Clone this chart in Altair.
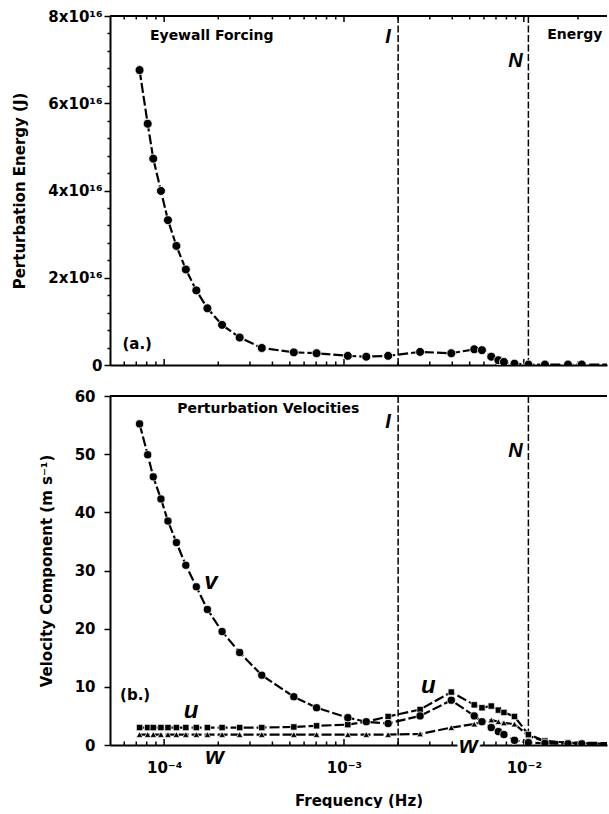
import json
import altair as alt
import pandas as pd

# Forcing frequencies (Hz) shared by every series
FREQ_HZ = [7.3e-5, 8.1e-5, 8.7e-5, 9.6e-5, 1.05e-4, 1.17e-4, 1.32e-4, 1.51e-4,
           1.74e-4, 2.1e-4, 2.63e-4, 3.49e-4, 5.26e-4, 7.04e-4, 1.05e-3, 1.33e-3,
           1.76e-3, 2.65e-3, 3.95e-3, 5.3e-3, 5.85e-3, 6.59e-3, 7.22e-3, 7.75e-3,
           8.87e-3, 1.06e-2, 1.31e-2, 1.76e-2, 2.1e-2, 3.2e-2]

# Perturbation energy, in units of 10^16 J
ENERGY_1E16_J = [6.76, 5.53, 4.73, 3.99, 3.32, 2.73, 2.19, 1.71, 1.30, 0.92,
                 0.63, 0.39, 0.29, 0.27, 0.21, 0.19, 0.21, 0.30, 0.27, 0.36,
                 0.34, 0.19, 0.11, 0.07, 0.03, 0.01, 0.01, 0.01, 0.01, 0.01]

# Perturbation velocity components (m/s)
V_MS = [55.2, 49.9, 46.1, 42.3, 38.5, 34.8, 30.9, 27.2, 23.3, 19.5,
        15.9, 12.0, 8.3, 6.4, 4.7, 4.0, 3.7, 5.0, 7.7, 5.0,
        4.0, 3.0, 2.3, 1.8, 0.8, 0.4, 0.3, 0.2, 0.2, 0.1]
U_MS = [3.0, 3.0, 3.0, 3.0, 3.0, 3.0, 3.0, 3.0, 3.0, 3.0,
        3.0, 3.0, 3.1, 3.3, 3.5, 4.0, 4.9, 6.1, 9.1, 6.9,
        6.4, 6.7, 6.0, 5.6, 4.9, 1.8, 0.7, 0.4, 0.3, 0.2]
W_MS = [1.8, 1.8, 1.8, 1.8, 1.8, 1.8, 1.8, 1.8, 1.8, 1.8,
        1.8, 1.8, 1.8, 1.8, 1.8, 1.8, 1.8, 1.9, 3.0, 3.6,
        4.0, 4.3, 4.0, 3.8, 3.6, 1.6, 0.6, 0.4, 0.4, 0.3]

# Inertial (I) and buoyancy (N) frequencies
I_FREQ = 2.0e-3
N_FREQ = 1.06e-2

X_DOMAIN = [5e-5, 2.9e-2]
X_MAJOR = [1e-4, 1e-3, 1e-2]
X_TICK_LABELS = ["10⁻⁴", "10⁻³", "10⁻²"]
E_MAJOR = [0, 2, 4, 6, 8]
E_TICK_LABELS = ["0", "2x10¹⁶", "4x10¹⁶", "6x10¹⁶", "8x10¹⁶"]
V_TICKS = [0, 10, 20, 30, 40, 50, 60]

W, H = 497, 349
FONT = "DejaVu Sans"
ITAL = "Liberation Sans"
DASH = [10, 3]

# log-axis tick positions inside the domain
all_ticks = [m * 10.0 ** k for k in (-5, -4, -3, -2) for m in range(1, 10)]
minor = [t for t in all_ticks if X_DOMAIN[0] * 1.01 < t < X_DOMAIN[1]
         and not any(abs(t / M - 1) < 1e-6 for M in X_MAJOR)]
ticks_major = pd.DataFrame({"f": X_MAJOR})
ticks_minor = pd.DataFrame({"f": minor})
ref_lines = pd.DataFrame({"f": [I_FREQ, N_FREQ]})
one_row = pd.DataFrame({"f": [X_DOMAIN[0]]})

xscale = alt.Scale(type="log", domain=X_DOMAIN, nice=False)

x_axis_top_panel = alt.Axis(labels=False, ticks=False, title=None, grid=False,
                            domainWidth=2, domainColor="black", values=X_MAJOR)
x_axis_bottom_panel = alt.Axis(
    values=X_MAJOR, ticks=False, grid=False, domainWidth=2, domainColor="black",
    labelExpr=json.dumps(X_TICK_LABELS, ensure_ascii=False)
    + "[round(log(datum.value)/LN10)+4]",
    labelFont=FONT, labelFontWeight="bold", labelFontSize=15, labelColor="black",
    labelPadding=15, title="Frequency (Hz)", titleFont=FONT, titleFontSize=15,
    titleFontWeight="bold", titleColor="black", titlePadding=18,
)

e_values = [round(0.4 * i, 1) for i in range(21)]
y_axis_energy = alt.Axis(
    values=e_values, grid=False, domainWidth=2, domainColor="black",
    tickColor="black", tickWidth=1.5,
    tickSize={"condition": {"test": "datum.value % 2 == 0", "value": 6}, "value": 3},
    labelExpr="datum.value % 2 == 0 ? "
    + json.dumps(E_TICK_LABELS, ensure_ascii=False) + "[datum.value / 2] : ''",
    labelOverlap=False, labelFont=FONT, labelFontWeight="bold", labelFontSize=15,
    labelColor="black", labelPadding=2,
    title="Perturbation Energy (J)", titleFont=FONT, titleFontSize=15,
    titleFontWeight="bold", titleColor="black", titlePadding=20,
)
y_axis_vel = alt.Axis(
    values=V_TICKS, grid=False, domainWidth=2, domainColor="black",
    tickColor="black", tickWidth=1.5, tickSize=6,
    labelFont=FONT, labelFontWeight="bold", labelFontSize=15, labelColor="black",
    labelPadding=9,
    title="Velocity Component (m s⁻¹)", titleFont=FONT, titleFontSize=15,
    titleFontWeight="bold", titleColor="black", titlePadding=20,
)


def xenc(axis):
    return alt.X("f:Q", scale=xscale, axis=axis)


def frame_layers(axis, top_ticks):
    """Border line, inward log ticks and the I / N reference lines."""
    layers = []
    layers.append(alt.Chart(one_row).mark_rule(color="black", strokeWidth=2).encode(
        x=alt.value(0), x2=alt.value(W), y=alt.value(0)))
    for df, ln in ((ticks_major, 6), (ticks_minor, 3.5)):
        layers.append(alt.Chart(df).mark_rule(color="black", strokeWidth=1.5).encode(
            x=xenc(axis), y=alt.value(H), y2=alt.value(H - ln)))
        if top_ticks:
            layers.append(alt.Chart(df).mark_rule(color="black", strokeWidth=1.5).encode(
                x=xenc(axis), y=alt.value(0), y2=alt.value(ln)))
    layers.append(alt.Chart(ref_lines).mark_rule(
        color="black", strokeWidth=1.5, strokeDash=[7, 2.5]).encode(
        x=xenc(axis), y=alt.value(0), y2=alt.value(H)))
    return layers


def text_layer(rows, yenc, axis, font, size, weight, style="normal",
               align="center", halo=False):
    df = pd.DataFrame(rows, columns=["f", "val", "label", "dx"])
    charts = []
    for dx, sub in df.groupby("dx"):
        base = alt.Chart(sub)
        kw = dict(font=font, fontSize=size, fontWeight=weight, fontStyle=style,
                  align=align, baseline="middle", dx=float(dx))
        if halo:
            charts.append(base.mark_text(color="white", stroke="white",
                                         strokeWidth=6, **kw).encode(
                x=xenc(axis), y=yenc, text="label:N"))
        charts.append(base.mark_text(color="black", **kw).encode(
            x=xenc(axis), y=yenc, text="label:N"))
    return charts


# ---------- panel (a): perturbation energy ----------
y_e = alt.Y("val:Q", scale=alt.Scale(domain=[0, 8], nice=False), axis=y_axis_energy)
energy_df = pd.DataFrame({"f": FREQ_HZ, "val": ENERGY_1E16_J})
energy_line = alt.Chart(energy_df).mark_line(
    color="black", strokeWidth=2.2, strokeDash=DASH, clip=True).encode(
    x=xenc(x_axis_top_panel), y=y_e)
energy_pts = alt.Chart(energy_df).mark_point(
    shape="circle", filled=True, size=80, color="black", stroke="white",
    strokeWidth=0.8, opacity=1, clip=True).encode(
    x=xenc(x_axis_top_panel), y=y_e)

panel_a = alt.layer(
    *frame_layers(x_axis_top_panel, True),
    energy_line, energy_pts,
    *text_layer([(1.84e-4, 7.55, "Eyewall Forcing", 0)], y_e, x_axis_top_panel,
                FONT, 14, "bold"),
    *text_layer([(1.35e-2, 7.57, "Energy", 0)], y_e, x_axis_top_panel,
                FONT, 14, "bold", align="left"),
    *text_layer([(I_FREQ, 7.53, "I", -10), (N_FREQ, 6.96, "N", -13)], y_e,
                x_axis_top_panel, ITAL, 20, "bold", style="italic"),
    *text_layer([(7.08e-5, 0.48, "(a.)", 0)], y_e, x_axis_top_panel,
                FONT, 15, "bold"),
).properties(width=W, height=H)

# ---------- panel (b): perturbation velocities ----------
y_v = alt.Y("val:Q", scale=alt.Scale(domain=[0, 60], nice=False), axis=y_axis_vel)
vel_layers = []
for values, shape, size in ((W_MS, "triangle-up", 44), (U_MS, "square", 40),
                            (V_MS, "circle", 66)):
    df = pd.DataFrame({"f": FREQ_HZ, "val": values})
    vel_layers.append(alt.Chart(df).mark_line(
        color="black", strokeWidth=2.2, strokeDash=DASH, clip=True).encode(
        x=xenc(x_axis_bottom_panel), y=y_v))
    vel_layers.append(alt.Chart(df).mark_point(
        shape=shape, filled=True, size=size, color="black", stroke="white",
        strokeWidth=0.7, opacity=1, clip=True).encode(
        x=xenc(x_axis_bottom_panel), y=y_v))

panel_b = alt.layer(
    *frame_layers(x_axis_bottom_panel, False),
    *vel_layers,
    *text_layer([(3.79e-4, 57.8, "Perturbation Velocities", 0)], y_v,
                x_axis_bottom_panel, FONT, 14, "bold"),
    *text_layer([(I_FREQ, 55.5, "I", -10), (N_FREQ, 50.5, "N", -13)], y_v,
                x_axis_bottom_panel, ITAL, 20, "bold", style="italic"),
    *text_layer([(1.82e-4, 28.1, "v", 0), (1.41e-4, 5.76, "u", 0),
                 (2.94e-3, 10.06, "u", 0)], y_v, x_axis_bottom_panel,
                ITAL, 24, "bold", style="italic"),
    *text_layer([(1.91e-4, -1.98, "w", 0), (4.91e-3, -0.09, "w", 0)], y_v,
                x_axis_bottom_panel, ITAL, 24, "bold", style="italic", halo=True),
    *text_layer([(6.9e-5, 8.6, "(b.)", 0)], y_v, x_axis_bottom_panel,
                FONT, 15, "bold"),
).properties(width=W, height=H)

chart = alt.vconcat(panel_a, panel_b, spacing=31, bounds="flush").properties(
    padding={"left": 12, "top": 9, "right": 0, "bottom": 0},
    background="white",
).configure_view(stroke=None)

chart.save("out.html", embed_options={"renderer": "svg", "actions": False})
